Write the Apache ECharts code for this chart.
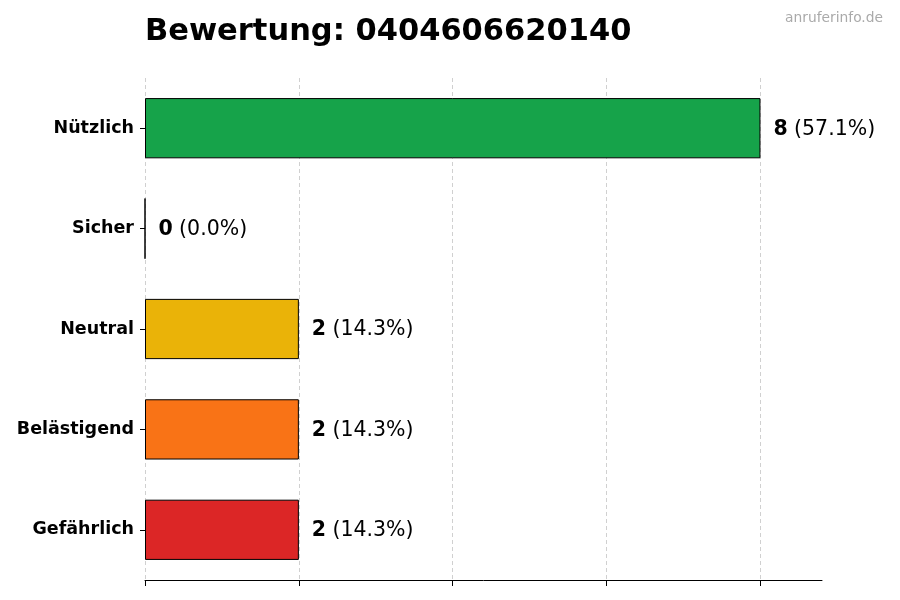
<!DOCTYPE html>
<html>
<head>
<meta charset="utf-8">
<script src="https://cdn.jsdelivr.net/npm/echarts@6/dist/echarts.min.js"></script>
<style>
  html, body { margin: 0; padding: 0; background: #fff; }
  #main { width: 900px; height: 600px; }
</style>
</head>
<body>
<div id="main"></div>
<script>
var categories = ['Nützlich', 'Sicher', 'Neutral', 'Belästigend', 'Gefährlich'];
var counts = [8, 0, 2, 2, 2];
var percents = ['57.1%', '0.0%', '14.3%', '14.3%', '14.3%'];
var barColors = ['#16a34a', '#64748b', '#eab308', '#f97316', '#dc2626'];
var xTicks = [0, 2, 4, 6, 8];

var font = 'DejaVu Sans';
var chart = echarts.init(document.getElementById('main'));

var option = {
	animation: false,
	title: [
		{
			text: 'Bewertung: 0404606620140',
			left: 140,
			top: 12,
			textStyle: { fontFamily: font, fontSize: 30.5, fontWeight: 'bold', color: '#000' }
		},
		{
			text: 'anruferinfo.de',
			right: 12,
			top: 6,
			textStyle: { fontFamily: font, fontSize: 13.8, fontWeight: 'normal', color: '#aaaaaa' }
		}
	],
	grid: { left: 145, right: 78, top: 78, bottom: 20, containLabel: false },
	xAxis: {
		type: 'value',
		min: 0,
		max: 8.8,
		interval: 2,
		axisLine: { show: true, lineStyle: { color: '#000', width: 1 } },
		axisTick: { show: true, length: 6, customValues: xTicks, lineStyle: { color: '#000' } },
		axisLabel: { show: false },
		splitLine: { show: false }
	},
	yAxis: {
		type: 'category',
		data: categories,
		inverse: true,
		axisLine: { show: false },
		axisTick: { show: true, alignWithLabel: true, length: 5, lineStyle: { color: '#000' } },
		axisLabel: { margin: 11, padding: [3, 0, 0, 0], fontFamily: font, fontSize: 17.5, fontWeight: 'bold', color: '#000' }
	},
	series: [{
		type: 'bar',
		barWidth: '60%',
		data: counts.map(function (v, i) {
			return { value: v, itemStyle: { color: barColors[i] } };
		}),
		itemStyle: { borderColor: '#000', borderWidth: 1 },
		label: {
			show: true,
			position: 'right',
			distance: 13,
			offset: [0, 1],
			formatter: function (p) {
				return '{b|' + counts[p.dataIndex] + '} {n|(' + percents[p.dataIndex] + ')}';
			},
			rich: {
				b: { fontFamily: font, fontSize: 20.5, fontWeight: 'bold', color: '#000', padding: [0, 3, 0, 0] },
				n: { fontFamily: font, fontSize: 20.5, fontWeight: 'normal', color: '#000' }
			}
		},
		markLine: {
			silent: true,
			symbol: 'none',
			z: 0,
			label: { show: false },
			lineStyle: { color: '#d0d0d0', type: [4, 3], width: 1 },
			data: xTicks.map(function (t) { return { xAxis: t }; })
		}
	}]
};

chart.setOption(option);
</script>
</body>
</html>
